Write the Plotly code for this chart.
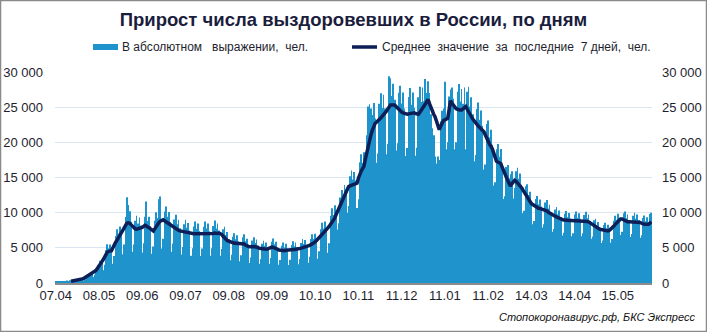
import plotly.graph_objects as go

# ---- data ----
start_date = "2020-04-07"
tick_labels = ["07.04", "08.05", "09.06", "09.07", "09.08", "09.09", "10.10",
               "10.11", "11.12", "11.01", "11.02", "14.03", "14.04", "15.05"]
tick_days = [0, 31, 62, 93, 124, 155, 186, 217, 248, 279, 310, 341, 372, 403]

daily = [
    150, 200, 160, 190, 250, 210, 300, 260, 340, 300,
    380, 250, 280, 330, 250, 460, 550, 540, 650, 620,
    360, 530, 1010, 1250, 1270, 1560, 1490, 850, 1170, 2070,
    2560, 2530, 3180, 3150, 1820, 2590, 4660, 5500, 4950, 5460,
    4830, 2750, 3850, 6670, 7630, 7040, 8040, 7400, 4070, 5460,
    9370, 12200, 11100, 10200, 8720, 4430, 5460, 8860, 9560, 8470,
    9300, 8190, 4350, 5640, 9430, 11600, 8800, 9420, 8090, 4150,
    5180, 8860, 10060, 9240, 11900, 12300, 4920, 6300, 10180, 10880,
    9410, 10080, 8660, 4460, 5600, 9030, 9690, 8360, 9000, 7770,
    4040, 5110, 8340, 9000, 7870, 8520, 7460, 3880, 4940, 8050,
    8750, 7700, 8460, 7400, 3850, 4900, 7990, 8750, 7760, 8460,
    7350, 3880, 4940, 8110, 8880, 7760, 8460, 7460, 3880, 4830,
    7650, 8000, 6820, 7260, 6250, 3220, 4030, 6560, 7060, 6220,
    6780, 5930, 3110, 3960, 6500, 6940, 5940, 6300, 5460, 2830,
    3640, 6040, 6500, 5670, 6180, 5300, 2720, 3430, 5580, 6000,
    5280, 5760, 5090, 2720, 3540, 5870, 6310, 5500, 5880, 5040,
    2590, 3260, 5290, 5750, 5060, 5580, 4880, 2560, 3290, 5410,
    5940, 5230, 5760, 5040, 2670, 3430, 5690, 6250, 5560, 6120,
    5410, 2890, 3750, 6270, 6940, 6270, 7020, 6350, 3440, 4520,
    7650, 8560, 7760, 8760, 7930, 4290, 5640, 9550, 10630, 9680,
    11040, 9990, 7610, 8480, 12160, 13230, 12600, 13940, 13290, 9980,
    10960, 15180, 15990, 14700, 15790, 14570, 10650, 11920, 17160, 18290,
    17060, 18590, 18130, 21000, 25100, 25400, 24800, 23900, 25600, 23400,
    17100, 18400, 25500, 26970, 24890, 26770, 24820, 18300, 19760, 29400,
    29100, 26570, 28340, 26060, 18830, 19880, 27060, 28060, 25520, 27100,
    24820, 18040, 19200, 26460, 27720, 25360, 27100, 24930, 18080, 19240,
    26400, 27890, 25730, 27780, 25850, 29000, 27000, 28700, 27000, 24000,
    22000, 21000, 18000, 17000, 18000, 17500, 23000, 24500, 24800, 28600,
    19000, 20000, 26500, 27500, 27800, 26200, 19000, 20000, 27200, 28300,
    25800, 27600, 25500, 27800, 19000, 27200, 27900, 25100, 26400, 24000,
    17300, 18200, 24750, 25650, 23200, 24530, 22350, 16130, 16840, 22600,
    23120, 20740, 21780, 19670, 13880, 14320, 19030, 19780, 17960, 19040,
    17000, 11960, 12320, 16500, 16790, 14910, 15460, 15900, 12000, 13500,
    15900, 16390, 14810, 15570, 13960, 9900, 10280, 13750, 14030, 12500,
    12990, 11640, 8360, 8800, 11940, 12360, 11180, 11870, 10870, 7880,
    8360, 11440, 11790, 10610, 11140, 10090, 7280, 7680, 10450, 10810,
    9770, 10300, 9370, 6750, 7160, 9850, 10240, 9350, 9970, 9170,
    6640, 7080, 9740, 10180, 9290, 9910, 9120, 6640, 7080, 9680,
    10120, 9190, 9740, 8810, 6300, 6600, 8910, 9140, 8240, 8680,
    7880, 5700, 6040, 8250, 8570, 7770, 8290, 7730, 5740, 6240,
    8860, 9550, 8980, 9860, 9270, 6830, 7280, 9900, 10180, 9190,
    9740, 8960, 6530, 6960, 9570, 10000, 9140, 9740, 8960, 6450,
    6800, 9240, 9600, 8770, 9350, 8600, 9800, 10000,
]

avg7 = [
    None, None, None, None, None, None, None, None, None, None,
    None, 250, 280, 310, 350, 400, 440, 490, 540, 590,
    650, 760, 880, 1000, 1150, 1300, 1420, 1540, 1670, 1800,
    2050, 2300, 2650, 3000, 3300, 3700, 4050, 4400, 4500, 4550,
    4600, 5000, 5500, 5800, 6100, 6400, 6700, 7050, 7400, 7800,
    8150, 8500, 8550, 8500, 8300, 8050, 7800, 7700, 7650, 7700,
    7750, 7800, 7900, 8050, 8200, 8100, 8000, 7850, 7700, 7550,
    7400, 7700, 8050, 8400, 8600, 8800, 8950, 9000, 8850, 8700,
    8550, 8400, 8250, 8100, 8000, 7850, 7750, 7600, 7500, 7400,
    7350, 7300, 7250, 7200, 7150, 7100, 7100, 7050, 7050, 7000,
    7000, 7000, 7050, 7050, 7000, 7000, 6950, 7000, 7050, 7050,
    7000, 7050, 7050, 7050, 7100, 7050, 7050, 7100, 7050, 6900,
    6650, 6400, 6200, 6050, 5950, 5850, 5750, 5700, 5650, 5650,
    5650, 5650, 5650, 5650, 5650, 5550, 5400, 5250, 5200, 5150,
    5200, 5250, 5200, 5150, 5150, 5050, 4950, 4900, 4850, 4800,
    4800, 4800, 4850, 4950, 5050, 5100, 5050, 5000, 4900, 4800,
    4700, 4650, 4600, 4600, 4600, 4650, 4650, 4650, 4700, 4700,
    4750, 4750, 4800, 4800, 4850, 4900, 4950, 5000, 5050, 5100,
    5150, 5250, 5350, 5450, 5550, 5700, 5850, 6050, 6250, 6450,
    6650, 6850, 7050, 7300, 7550, 7800, 8050, 8300, 8500, 8800,
    9200, 9700, 10150, 10600, 11050, 11500, 12000, 12450, 12900, 13300,
    13700, 13800, 13900, 14000, 14100, 14150, 14200, 14900, 15600, 15900,
    16250, 16600, 17600, 18600, 19600, 20350, 21050, 21700, 22200, 22700,
    22850, 23000, 23200, 23450, 23700, 23900, 24100, 24400, 24700, 25000,
    25300, 25300, 25300, 25300, 25100, 24850, 24600, 24400, 24300, 24200,
    24100, 24050, 24000, 24050, 24100, 24150, 24200, 24200, 24100, 24050,
    24000, 24250, 24500, 24800, 25100, 25450, 25800, 26100, 25500, 24900,
    24400, 24000, 23600, 23000, 22400, 21800, 22300, 22700, 23100, 23200,
    23300, 23400, 24600, 25900, 25600, 25300, 24900, 24800, 24700, 24600,
    24600, 24600, 24800, 24950, 25100, 24700, 24300, 23900, 23600, 23300,
    23050, 22750, 22500, 22300, 22100, 21900, 21700, 21500, 21050, 20550,
    20100, 19750, 19450, 19100, 18500, 17900, 17300, 17200, 17100, 17000,
    16500, 15950, 15400, 15000, 14600, 14200, 13800, 14100, 14400, 14600,
    14450, 14250, 14100, 13900, 13550, 13200, 12850, 12500, 12200, 11900,
    11600, 11300, 11150, 11000, 10850, 10750, 10650, 10600, 10550, 10500,
    10450, 10400, 10250, 10100, 9950, 9800, 9700, 9600, 9500, 9400,
    9300, 9200, 9100, 9000, 8950, 8950, 8900, 8900, 8900, 8900,
    8850, 8850, 8850, 8850, 8850, 8850, 8850, 8850, 8850, 8800,
    8800, 8750, 8700, 8550, 8400, 8250, 8100, 7950, 7850, 7750,
    7650, 7600, 7550, 7500, 7450, 7400, 7400, 7500, 7650, 7800,
    8050, 8300, 8550, 8800, 9000, 9100, 9100, 9000, 8850, 8750,
    8700, 8700, 8700, 8700, 8700, 8700, 8700, 8700, 8700, 8600,
    8500, 8400, 8350, 8350, 8350, 8350, 8500, 8700,
]

y_ticks = [0, 5000, 10000, 15000, 20000, 25000, 30000]
y_tick_labels = ["0", "5 000", "10 000", "15 000", "20 000", "25 000", "30 000"]

series_bar_name = "В абсолютном   выражении,  чел."
series_line_name = "Среднее  значение  за  последние  7 дней,  чел."
title_text = "Прирост числа выздоровевших в России, по дням"
source_text = "Стопокоронавирус.рф, БКС Экспресс"

days = list(range(len(daily)))

# ---- styling ----
W, H = 707, 332
L, R, T, B = 55, 55, 72, 49
BAR_COLOR = "#1f93cc"
LINE_COLOR = "#0e1f57"
TEXT_COLOR = "#1e1e2e"
FONT = "Liberation Sans, Arial, sans-serif"
NARROW = "Liberation Sans Narrow, Arial Narrow, Liberation Sans, sans-serif"

pw = W - L - R
ph = H - T - B


def px_x(x):
    return (x - L) / pw


def px_y(y):
    return (H - B - y) / ph


fig = go.Figure()
fig.add_trace(go.Bar(x=days, y=daily, marker_color=BAR_COLOR,
                     marker_line_width=0, name=series_bar_name))
fig.add_trace(go.Scatter(x=days, y=avg7, mode="lines", yaxis="y2",
                         line=dict(color=LINE_COLOR, width=3.5),
                         name=series_line_name))

axis_font = dict(family=FONT, size=13, color=TEXT_COLOR)
fig.update_layout(
    width=W, height=H,
    margin=dict(l=L, r=R, t=T, b=B, autoexpand=False),
    paper_bgcolor="white", plot_bgcolor="white",
    bargap=0.45,
    showlegend=False,
    xaxis=dict(range=[-0.5, len(daily) - 0.5], tickmode="array",
               tickvals=tick_days, ticktext=tick_labels, showgrid=False,
               showline=True, linecolor="#8c8c8c", linewidth=1.5,
               ticks="", tickfont=axis_font, zeroline=False,
               automargin=False),
    yaxis=dict(range=[0, 30000], tickmode="array", tickvals=y_ticks,
               ticktext=y_tick_labels, gridcolor="#d9e5f1", gridwidth=1,
               zeroline=False, ticks="", tickfont=axis_font,
               ticklabelstandoff=11, automargin=False),
    yaxis2=dict(range=[0, 30000], tickmode="array", tickvals=y_ticks,
                ticktext=y_tick_labels, overlaying="y", side="right",
                showgrid=False, zeroline=False, ticks="",
                tickfont=axis_font, ticklabelstandoff=9, automargin=False),
    title=dict(text=title_text, x=0.5, xref="container", xanchor="center",
               y=1 - 20 / H, yref="container", yanchor="middle",
               font=dict(family=FONT, size=18.5, color="#1b1d3d",
                         weight="bold")),
)

# legend (drawn manually to match swatch shapes)
fig.add_shape(type="rect", xref="paper", yref="paper",
              x0=px_x(93), x1=px_x(118), y0=px_y(50), y1=px_y(44),
              fillcolor=BAR_COLOR, line_width=0)
fig.add_shape(type="line", xref="paper", yref="paper",
              x0=px_x(352), x1=px_x(377), y0=px_y(47), y1=px_y(47),
              line=dict(color=LINE_COLOR, width=3.5))
fig.add_annotation(text=series_bar_name, xref="paper", yref="paper",
                   x=px_x(120), y=px_y(47), xanchor="left", yanchor="middle",
                   showarrow=False,
                   font=dict(family=FONT, size=12, color=TEXT_COLOR))
fig.add_annotation(text=series_line_name, xref="paper", yref="paper",
                   x=px_x(380), y=px_y(47), xanchor="left", yanchor="middle",
                   showarrow=False,
                   font=dict(family=FONT, size=12, color=TEXT_COLOR))
# source
fig.add_annotation(text=source_text, xref="paper", yref="paper",
                   x=px_x(697), y=px_y(317), xanchor="right", yanchor="middle",
                   showarrow=False,
                   font=dict(family=NARROW, size=11, color="#111111",
                             style="italic"))
# outer border
fig.add_shape(type="rect", xref="paper", yref="paper",
              x0=px_x(0.5), x1=px_x(706.5), y0=px_y(331.5), y1=px_y(0.5),
              line=dict(color="#8a8a8a", width=1.5), layer="above")

fig.write_html("out.html")
